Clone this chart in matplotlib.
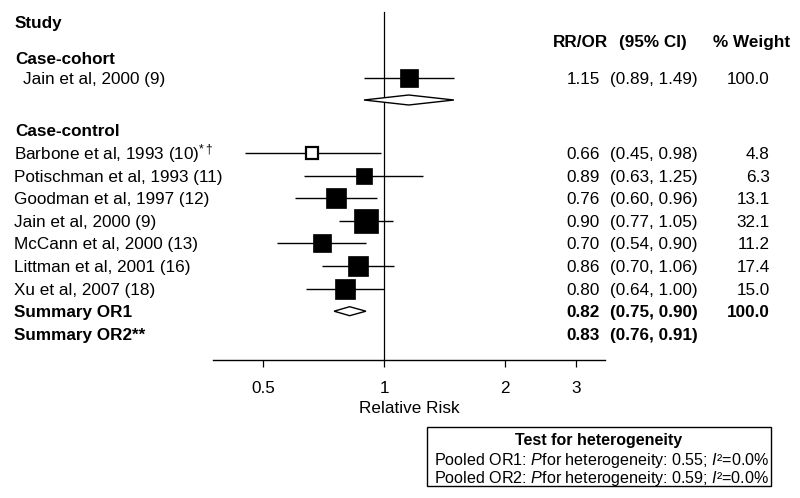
import matplotlib
matplotlib.use("Agg")
import matplotlib.pyplot as plt
from matplotlib.patches import Rectangle
import numpy as np

plt.rcParams['font.family'] = ['Liberation Sans', 'DejaVu Sans']
plt.rcParams['mathtext.fontset'] = 'custom'
plt.rcParams['mathtext.rm'] = 'Liberation Sans'
plt.rcParams['mathtext.it'] = 'Liberation Sans:italic'
plt.rcParams['mathtext.bf'] = 'Liberation Sans:bold'

# ---------------- data ----------------
cohort_studies = ["Jain et al, 2000 (9)"]
cohort_rr = [1.15]
cohort_lo = [0.89]
cohort_hi = [1.49]
cohort_w = [100.0]

cc_studies = [r"Barbone et al, 1993 (10)$^{*\dagger}$",
              "Potischman et al, 1993 (11)",
              "Goodman et al, 1997 (12)",
              "Jain et al, 2000 (9)",
              "McCann et al, 2000 (13)",
              "Littman et al, 2001 (16)",
              "Xu et al, 2007 (18)"]
cc_rr = [0.66, 0.89, 0.76, 0.90, 0.70, 0.86, 0.80]
cc_lo = [0.45, 0.63, 0.60, 0.77, 0.54, 0.70, 0.64]
cc_hi = [0.98, 1.25, 0.96, 1.05, 0.90, 1.06, 1.00]
cc_w = [4.8, 6.3, 13.1, 32.1, 11.2, 17.4, 15.0]
cc_hollow = [True, False, False, False, False, False, False]

summary_labels = ["Summary OR1", "Summary OR2**"]
summary_rr = [0.82, 0.83]
summary_lo = [0.75, 0.76]
summary_hi = [0.90, 0.91]
summary_w = ["100.0", ""]

xticks = [0.5, 1, 2, 3]
xticklabels = ["0.5", "1", "2", "3"]

het_title = "Test for heterogeneity"
het_lines = [r"Pooled OR1: $\mathit{P}$for heterogeneity: 0.55; $\mathit{I}$²=0.0%",
             r"Pooled OR2: $\mathit{P}$for heterogeneity: 0.59; $\mathit{I}$²=0.0%"]

# ---------------- layout ----------------
W, H = 800, 498
fig = plt.figure(figsize=(W / 100, H / 100), dpi=100)

ax_left, ax_right, ax_bottom = 213, 605, 360
ax = fig.add_axes([ax_left / W, 1 - ax_bottom / H, (ax_right - ax_left) / W, ax_bottom / H])
ax.set_xscale('log', base=2)
one_px = 384.3
ppd = 121.0  # pixels per doubling
ax.set_xlim(2 ** ((ax_left - one_px) / ppd), 2 ** ((ax_right - one_px) / ppd))
ax.set_ylim(ax_bottom, 0)
for s in ['left', 'right', 'top']:
    ax.spines[s].set_visible(False)
ax.spines['bottom'].set_linewidth(1.0)
ax.set_yticks([])
ax.set_xticks(xticks)
ax.set_xticklabels(xticklabels)
ax.xaxis.set_minor_locator(matplotlib.ticker.NullLocator())
ax.tick_params(axis='x', direction='out', length=5, width=0.9, labelsize=12.3, pad=10)
ax.set_xlabel("Relative Risk", fontsize=12.3, labelpad=4)
ax.patch.set_visible(False)

ax.plot([1, 1], [12, ax_bottom], color='black', lw=0.9, clip_on=False)

FS = 12.3
CAP = 6  # half cap height in px for baseline


def ftext(x, y, s, **kw):
    kw.setdefault('fontsize', FS)
    fig.text(x / W, 1 - (y + CAP) / H, s, va='baseline', **kw)


def row_text(y, label, rr, lo, hi, w, bold=False, indent=14):
    fw = 'bold' if bold else 'normal'
    ftext(indent, y, label, fontweight=fw)
    ftext(600, y, f"{rr:.2f}", ha='right', fontweight=fw)
    ftext(610, y, f"({lo:.2f}, {hi:.2f})", ha='left', fontweight=fw)
    ftext(770, y, w, ha='right', fontweight=fw)


# headers
ftext(15, 22, "Study", fontweight='bold')
ftext(553, 41, "RR/OR", fontweight='bold')
ftext(619, 41, "(95% CI)", fontweight='bold')
ftext(713, 41, "% Weight", fontweight='bold')

# case-cohort
ftext(15, 58, "Case-cohort", fontweight='bold')
y_cohort = 78
for i in range(len(cohort_studies)):
    y = y_cohort
    ax.hlines(y, cohort_lo[i], cohort_hi[i], color='black', lw=1.0)
    ax.plot(cohort_rr[i], y, marker='s', ms=18 * 0.72, mfc='black', mec='black', mew=0.5)
    row_text(y, cohort_studies[i], cohort_rr[i], cohort_lo[i], cohort_hi[i], f"{cohort_w[i]:.1f}", indent=23)
# cohort pooled diamond
yd = 100
hd = 5
ax.fill([cohort_lo[0], cohort_rr[0], cohort_hi[0], cohort_rr[0]], [yd, yd - hd, yd, yd + hd],
        facecolor='white', edgecolor='black', lw=1.0, zorder=3)

# case-control
ftext(15, 130, "Case-control", fontweight='bold')
y0, step = 153, 22.6
for i in range(len(cc_studies)):
    y = y0 + i * step
    ax.hlines(y, cc_lo[i], cc_hi[i], color='black', lw=1.0)
    side = 10 + 2.5 * np.sqrt(cc_w[i])
    if cc_hollow[i]:
        ax.plot(cc_rr[i], y, marker='s', ms=(side - 2.5) * 0.72, mfc='white', mec='black', mew=1.6, zorder=3)
    else:
        ax.plot(cc_rr[i], y, marker='s', ms=side * 0.72, mfc='black', mec='black', mew=0.5, zorder=3)
    row_text(y, cc_studies[i], cc_rr[i], cc_lo[i], cc_hi[i], f"{cc_w[i]:.1f}")

for j in range(len(summary_labels)):
    y = y0 + (len(cc_studies) + j) * step
    if j == 0:
        ax.fill([summary_lo[j], summary_rr[j], summary_hi[j], summary_rr[j]], [y, y - 4.5, y, y + 4.5],
                facecolor='white', edgecolor='black', lw=1.0, zorder=3)
    row_text(y, summary_labels[j], summary_rr[j], summary_lo[j], summary_hi[j], summary_w[j], bold=True)

# heterogeneity box
bx0, by0, bx1, by1 = 427, 427, 771, 486
fig.patches.append(Rectangle((bx0 / W, 1 - by1 / H), (bx1 - bx0) / W, (by1 - by0) / H,
                             transform=fig.transFigure, fill=False, edgecolor='black', lw=1.0))
ftext((bx0 + bx1) / 2, 439, het_title, ha='center', fontweight='bold', fontsize=11.5)
ftext(434, 459, het_lines[0], fontsize=11.6)
ftext(434, 477, het_lines[1], fontsize=11.6)

fig.savefig("out.png", dpi=100)
